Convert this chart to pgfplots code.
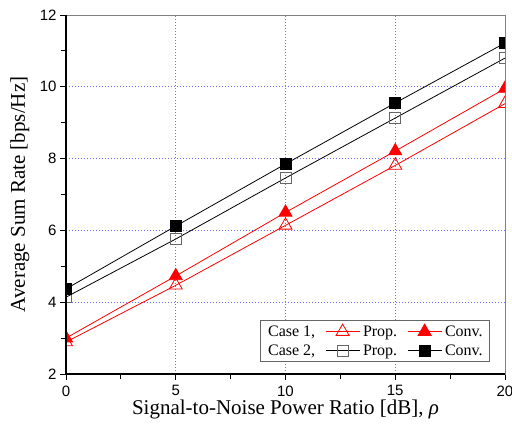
\documentclass[border=0pt]{standalone}
\usepackage{fontspec}
\setmainfont{Liberation Serif}
\newfontfamily\arialfont{Liberation Sans}
\usepackage{pgfplots}
\pgfplotsset{compat=1.18}

\definecolor{gridblue}{RGB}{110,110,255}

\begin{document}
\begin{tikzpicture}[x=1pt,y=1pt]
\begin{axis}[
  name=ax, anchor=south west, at={(0,0)},
  scale only axis,
  width=439pt, height=359pt,
  xmin=0, xmax=20, ymin=2, ymax=12,
  xtick={0,5,10,15,20}, ytick={2,4,6,8,10,12},
  minor x tick num=1, minor y tick num=1,
  xtick pos=bottom, ytick pos=left,
  axis line style={gray, line width=0.8pt},
  tick align=outside, major tick length=6pt, minor tick length=5pt,
  tick style={black, line width=0.9pt},
  grid=major, major grid style={gridblue, dash pattern=on 1pt off 2pt, line width=0.7pt},
  /pgf/number format/assume math mode=true,
  tick label style={font=\arialfont\fontsize{15}{15}\selectfont},
  xticklabel style={yshift=-2pt},
  xlabel={Signal-to-Noise Power Ratio [dB], \textit{ρ}},
  ylabel={Average Sum Rate [bps/Hz]},
  label style={font=\fontsize{21}{22}\selectfont},
  xlabel style={at={(axis description cs:0.5,-0.1)}, anchor=center},
  ylabel style={at={(axis description cs:-0.105,0.5)}, anchor=center},
  clip=true, clip marker paths=true,
  legend columns=3,
  legend style={at={(0.966,0.033)}, anchor=south east, draw=black!60, line width=0.8pt,
    font=\fontsize{16}{17}\selectfont, inner xsep=5pt, inner ysep=3pt,
    /tikz/every even column/.append style={column sep=8pt},
    /tikz/every odd column/.append style={column sep=1pt},
    row sep=3pt},
  legend cell align=left,
  legend image code/.code={\draw[#1, mark repeat=2, mark phase=2] plot coordinates {(0pt,0pt) (17pt,0pt) (34pt,0pt)};},
  after end axis/.code={\draw[black, line width=1.2pt] (rel axis cs:0,1) -- (rel axis cs:0,0) -- (rel axis cs:1,0);},
]
\addlegendimage{empty legend}\addlegendentry{Case 1,}
\addlegendimage{red, line width=0.8pt, mark=triangle, mark size=7.5pt, mark options={solid, fill=white}}\addlegendentry{Prop.}
\addlegendimage{red, line width=0.8pt, mark=triangle*, mark size=7.5pt, mark options={solid, fill=red}}\addlegendentry{Conv.}
\addlegendimage{empty legend}\addlegendentry{Case 2,}
\addlegendimage{black, line width=0.8pt, mark=square, mark size=5.5pt, mark options={solid, fill=white, draw=black!60}}\addlegendentry{Prop.}
\addlegendimage{black, line width=0.8pt, mark=square*, mark size=5.5pt, mark options={solid, fill=black}}\addlegendentry{Conv.}

% Case 1, Prop.
\addplot[forget plot, red, line width=0.8pt, mark=triangle, mark size=7.5pt, mark options={fill=white}]
  coordinates {(0,2.89) (5,4.47) (10,6.14) (15,7.81) (20,9.53)};
% Case 1, Conv.
\addplot[forget plot, red, line width=0.8pt, mark=triangle*, mark size=7.5pt, mark options={fill=red}]
  coordinates {(0,3.00) (5,4.73) (10,6.50) (15,8.21) (20,9.95)};
% Case 2, Prop.
\addplot[forget plot, black, line width=0.8pt, mark=square, mark size=5.5pt, mark options={fill=white, draw=black!60}]
  coordinates {(0,4.14) (5,5.76) (10,7.46) (15,9.13) (20,10.80)};
% Case 2, Conv.
\addplot[forget plot, black, line width=0.8pt, mark=square*, mark size=5.5pt, mark options={fill=black}]
  coordinates {(0,4.37) (5,6.12) (10,7.85) (15,9.55) (20,11.22)};
\end{axis}
\pgfresetboundingbox
\path[use as bounding box] (-66pt,-63pt) rectangle (446pt,374pt);
\end{tikzpicture}
\end{document}
